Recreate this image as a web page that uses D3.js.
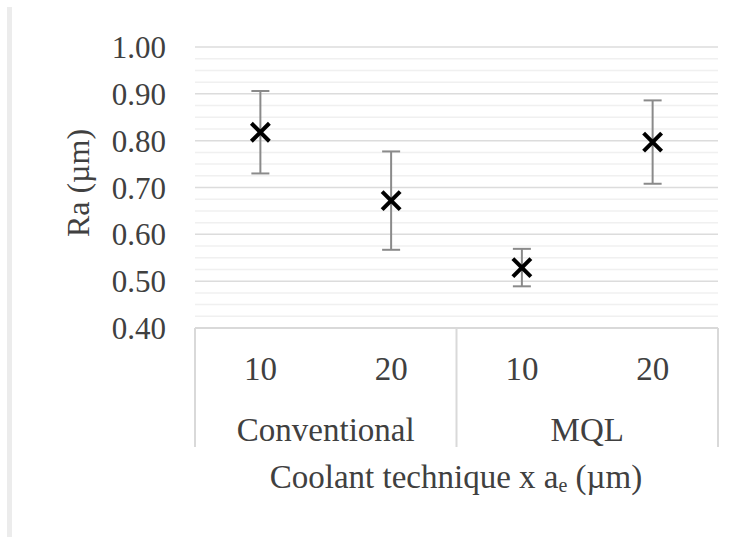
<!DOCTYPE html>
<html><head><meta charset="utf-8">
<script src="https://cdn.jsdelivr.net/npm/d3@7"></script>
<style>html,body{margin:0;padding:0;background:#fff;}svg{display:block;}</style>
</head><body>
<script>
const groups = ["Conventional", "MQL"];
const levels = ["10", "20"];
const categories = ["Conventional-10", "Conventional-20", "MQL-10", "MQL-20"];
const means = [0.818, 0.672, 0.529, 0.797];
const errors = [0.088, 0.105, 0.040, 0.089];
const yTicks = [0.40, 0.50, 0.60, 0.70, 0.80, 0.90, 1.00];
const yTitle = "Ra (µm)";
const xTitle = "Coolant technique x a";

(function () {
const W = 751, H = 537;
const pLeft = 195, pRight = 718, pTop = 47, pBottom = 328;
const font = "'Liberation Serif','Times New Roman',serif";

const svg = d3.select("body").append("svg").attr("width", W).attr("height", H);

// left border strip
svg.append("rect").attr("x", 7).attr("y", 7).attr("width", 5).attr("height", H - 7).attr("fill", "#ececec");

const y = d3.scaleLinear().domain([0.4, 1.0]).range([pBottom, pTop]);
const x = d3.scaleBand().domain(categories).range([pLeft, pRight]);

// minor gridlines
const minor = d3.range(0.4, 1.0001, 0.025).filter(v => Math.abs(Math.round(v * 10) - v * 10) > 0.01);
svg.append("g").selectAll("line").data(minor).join("line")
  .attr("x1", pLeft).attr("x2", pRight)
  .attr("y1", d => y(d)).attr("y2", d => y(d))
  .attr("stroke", "#f0f0f0").attr("stroke-width", 1.5);

// major gridlines
svg.append("g").selectAll("line").data(yTicks.slice(1)).join("line")
  .attr("x1", pLeft).attr("x2", pRight)
  .attr("y1", d => y(d)).attr("y2", d => y(d))
  .attr("stroke", "#dcdcdc").attr("stroke-width", 1.5);

// y axis labels
const yAxis = d3.axisLeft(y).tickValues(yTicks).tickFormat(d3.format(".2f")).tickSize(0).tickPadding(0);
const ya = svg.append("g").attr("transform", "translate(166,0)").call(yAxis);
ya.select(".domain").remove();
ya.selectAll("text").attr("font-family", font).attr("font-size", 31).attr("fill", "#404040").attr("dy", "0.34em");

// category axis box
const boxBottom = 447;
const g = svg.append("g").attr("stroke", "#d9d9d9").attr("stroke-width", 2);
g.append("line").attr("x1", pLeft).attr("x2", pRight).attr("y1", pBottom).attr("y2", pBottom);
const seps = [pLeft, x(categories[2]), pRight];
g.selectAll("line.sep").data(seps).join("line").attr("class", "sep")
  .attr("x1", d => d).attr("x2", d => d).attr("y1", pBottom).attr("y2", boxBottom);

// level labels
svg.append("g").selectAll("text").data(categories).join("text")
  .attr("x", d => x(d) + x.bandwidth() / 2).attr("y", 380)
  .attr("text-anchor", "middle").attr("font-family", font).attr("font-size", 33).attr("fill", "#404040")
  .text((d, i) => levels[i % 2]);

// group labels
svg.append("g").selectAll("text").data(groups).join("text")
  .attr("x", (d, i) => (x(categories[i * 2]) + x(categories[i * 2 + 1]) + x.bandwidth()) / 2)
  .attr("y", 441)
  .attr("text-anchor", "middle").attr("font-family", font).attr("font-size", 33).attr("fill", "#404040")
  .text(d => d);

// x title
const xt = svg.append("text").attr("x", 456).attr("y", 488)
  .attr("text-anchor", "middle").attr("font-family", font).attr("font-size", 33).attr("fill", "#404040");
xt.append("tspan").text(xTitle);
xt.append("tspan").attr("font-size", 20).attr("dy", 4).text("e");
xt.append("tspan").attr("dy", -4).text(" (µm)");

// y title
svg.append("text").attr("transform", "translate(89,183) rotate(-90)")
  .attr("text-anchor", "middle").attr("font-family", font).attr("font-size", 32).attr("fill", "#404040")
  .text(yTitle);

// error bars
const eb = svg.append("g").attr("stroke", "#8a8a8a").attr("stroke-width", 2);
categories.forEach((c, i) => {
  const cx = x(c) + x.bandwidth() / 2;
  const y1 = y(means[i] + errors[i]), y2 = y(means[i] - errors[i]);
  eb.append("line").attr("x1", cx).attr("x2", cx).attr("y1", y1).attr("y2", y2);
  eb.append("line").attr("x1", cx - 9).attr("x2", cx + 9).attr("y1", y1).attr("y2", y1);
  eb.append("line").attr("x1", cx - 9).attr("x2", cx + 9).attr("y1", y2).attr("y2", y2);
});

// X markers
const mk = svg.append("g").attr("stroke", "#000").attr("stroke-width", 4);
categories.forEach((c, i) => {
  const cx = x(c) + x.bandwidth() / 2, cy = y(means[i]), s = 9;
  mk.append("line").attr("x1", cx - s).attr("x2", cx + s).attr("y1", cy - s).attr("y2", cy + s);
  mk.append("line").attr("x1", cx - s).attr("x2", cx + s).attr("y1", cy + s).attr("y2", cy - s);
});
})();
</script>
</body></html>
